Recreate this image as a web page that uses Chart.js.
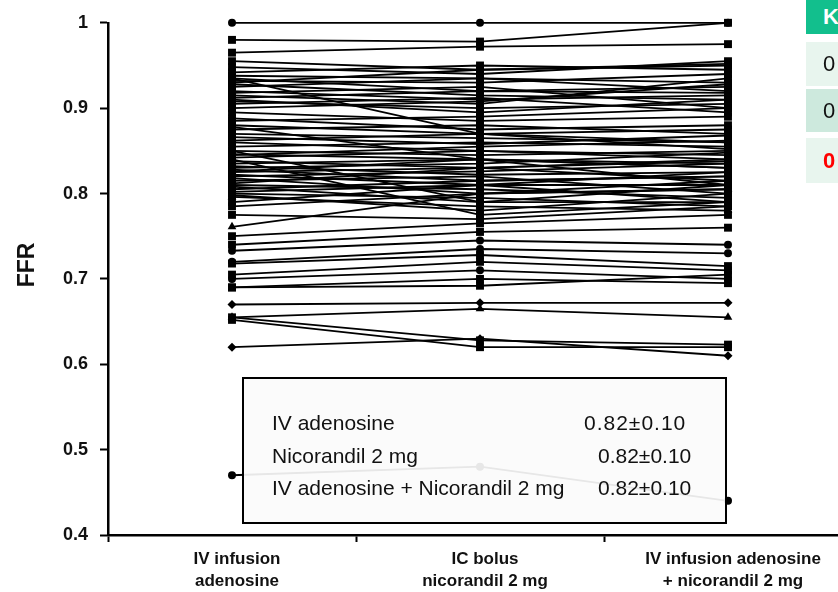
<!DOCTYPE html>
<html>
<head>
<meta charset="utf-8">
<script src="https://cdn.jsdelivr.net/npm/chart.js@4/dist/chart.umd.min.js"></script>
<style>
  html, body { margin: 0; padding: 0; background: #fff; overflow: hidden; width: 838px; height: 592px; }
  #wrap { position: relative; width: 838px; height: 592px; overflow: hidden; }
  canvas { position: absolute; left: 0; top: 0; }
  .cell { position: absolute; left: 806px; width: 40px; font-family: "Liberation Sans", Arial, sans-serif; font-size: 22px; box-sizing: border-box; padding-left: 17px; display: flex; align-items: center; }
</style>
</head>
<body>
<div id="wrap">
  <canvas id="c" width="860" height="592"></canvas>
  <div class="cell" style="top:0;height:34px;background:#12bf8d;color:#fff;font-weight:bold;">K</div>
  <div class="cell" style="top:42px;height:44px;background:#e8f5ee;color:#111;">0</div>
  <div class="cell" style="top:89px;height:43px;background:#cde9dd;color:#111;">0</div>
  <div class="cell" style="top:138px;height:45px;background:#e8f5ee;color:#f00;font-weight:bold;">0</div>
</div>
<script>
// ---- data ----
const categories = [["IV infusion", "adenosine"], ["IC bolus", "nicorandil 2 mg"], ["IV infusion adenosine", "+ nicorandil 2 mg"]];
const yTitle = "FFR";
const yTicks = [0.4, 0.5, 0.6, 0.7, 0.8, 0.9, 1];
const ivAdenosine = [1.00,0.98,0.965,0.955,0.948,0.942,0.938,0.935,0.932,0.928,0.925,0.92,0.918,0.915,0.912,0.908,0.905,0.90,0.935,0.895,0.888,0.88,0.875,0.87,0.866,0.86,0.855,0.85,0.846,0.842,0.838,0.835,0.832,0.83,0.828,0.825,0.822,0.82,0.818,0.815,0.81,0.808,0.805,0.80,0.798,0.796,0.84,0.85,0.79,0.775,0.761,0.75,0.74,0.733,0.72,0.718,0.705,0.70,0.69,0.69,0.67,0.655,0.655,0.652,0.62,0.47,0.93,0.91,0.885,0.862,0.845,0.826,0.812,0.802,0.785,0.878];
const icNicorandil = [1.00,0.978,0.972,0.945,0.94,0.95,0.935,0.92,0.93,0.915,0.935,0.91,0.925,0.905,0.92,0.90,0.912,0.908,0.87,0.885,0.875,0.87,0.88,0.865,0.858,0.85,0.86,0.845,0.84,0.85,0.83,0.84,0.822,0.835,0.815,0.83,0.81,0.826,0.80,0.82,0.805,0.79,0.815,0.795,0.78,0.785,0.775,0.79,0.81,0.77,0.80,0.765,0.755,0.745,0.735,0.728,0.72,0.71,0.70,0.692,0.672,0.665,0.628,0.62,0.63,0.48,0.945,0.895,0.89,0.87,0.855,0.84,0.83,0.81,0.80,0.84];
const ivAdenosineNicorandil = [1.00,1.00,0.975,0.952,0.955,0.945,0.93,0.925,0.94,0.91,0.92,0.915,0.90,0.935,0.918,0.905,0.895,0.928,0.86,0.89,0.88,0.875,0.87,0.86,0.868,0.84,0.855,0.85,0.835,0.845,0.84,0.83,0.825,0.848,0.82,0.815,0.81,0.835,0.805,0.80,0.795,0.79,0.82,0.785,0.80,0.78,0.79,0.81,0.825,0.785,0.805,0.775,0.76,0.74,0.73,0.715,0.71,0.70,0.695,0.705,0.672,0.655,0.623,0.62,0.61,0.44,0.95,0.91,0.90,0.852,0.862,0.81,0.838,0.79,0.815,0.83];
const circleIdx = [0, 53, 54, 57, 65];
const triangleIdx = [45, 50, 61];
const diamondIdx = [60, 64];
const boxRows = [["IV adenosine", "0.82\u00b10.10"], ["Nicorandil 2 mg", "0.82\u00b10.10"], ["IV adenosine + Nicorandil 2 mg", "0.82\u00b10.10"]];

function styleFor(i) {
  if (circleIdx.includes(i)) return ['circle', 4];
  if (triangleIdx.includes(i)) return ['triangle', 5];
  if (diamondIdx.includes(i)) return ['rectRot', 4.5];
  return ['rect', 5.6];
}

const datasets = ivAdenosine.map((v, i) => {
  const [ps, r] = styleFor(i);
  return {
    data: [v, icNicorandil[i], ivAdenosineNicorandil[i]],
    borderColor: '#000', backgroundColor: '#000',
    borderWidth: 1.8, pointStyle: ps, pointRadius: r, pointBorderWidth: 0,
    pointBackgroundColor: '#000', tension: 0, clip: false
  };
});

const boxPlugin = {
  id: 'statBox',
  afterDatasetsDraw(chart) {
    const ctx = chart.ctx;
    ctx.save();
    ctx.fillStyle = 'rgba(251,251,251,0.92)';
    ctx.fillRect(243, 378, 483, 145);
    ctx.strokeStyle = '#000';
    ctx.lineWidth = 2;
    ctx.strokeRect(243, 378, 483, 145);
    ctx.fillStyle = '#111';
    ctx.font = '21px "Liberation Sans", Arial, sans-serif';
    ctx.textBaseline = 'middle';
    const ys = [424, 457, 489];
    const vx = [584, 598, 598];
    boxRows.forEach((r, i) => {
      ctx.letterSpacing = '0px';
      ctx.fillText(r[0], 272, ys[i]);
      ctx.letterSpacing = i === 0 ? '1px' : '0px';
      ctx.fillText(r[1], vx[i], ys[i]);
    });
    ctx.letterSpacing = '0px';
    // y axis title
    ctx.translate(28, 265);
    ctx.rotate(-Math.PI / 2);
    ctx.font = 'bold 23px "Liberation Sans", Arial, sans-serif';
    ctx.textAlign = 'center';
    ctx.fillText(yTitle, 0, 0);
    ctx.restore();
  }
};

new Chart(document.getElementById('c'), {
  type: 'line',
  data: { labels: categories, datasets },
  options: {
    responsive: false,
    animation: false,
    layout: { padding: { left: 0, right: 8, top: 20, bottom: 0 } },
    plugins: { legend: { display: false }, tooltip: { enabled: false } },
    scales: {
      x: {
        type: 'category',
        offset: true,
        grid: { offset: true, drawOnChartArea: false, drawTicks: true, tickLength: 7, tickWidth: 2, tickColor: '#000' },
        border: { display: true, color: '#000', width: 2.5 },
        ticks: { color: '#111', font: { family: '"Liberation Sans", Arial, sans-serif', size: 17, weight: 'bold', lineHeight: 1.3 }, padding: 6, labelOffset: 5, maxRotation: 0, autoSkip: false },
        afterFit(s) { s.height = 57; }
      },
      y: {
        min: 0.4, max: 1,
        afterBuildTicks(s) { s.ticks = yTicks.map(v => ({ value: v })); },
        grid: { drawOnChartArea: false, drawTicks: true, tickLength: 8, tickWidth: 2, tickColor: '#000' },
        border: { display: true, color: '#000', width: 2.5 },
        ticks: { color: '#111', font: { family: '"Liberation Sans", Arial, sans-serif', size: 18, weight: 'bold' }, padding: 12, callback: v => String(Math.round(v * 10) / 10) },
        afterFit(s) { s.width = 108; }
      }
    }
  },
  plugins: [boxPlugin]
});
</script>
</body>
</html>
